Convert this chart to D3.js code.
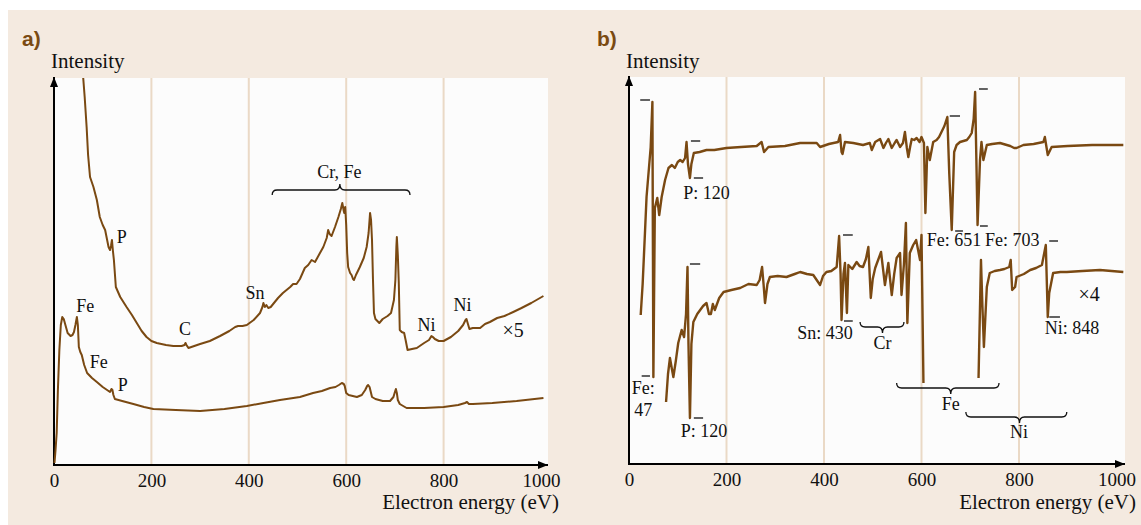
<!DOCTYPE html>
<html><head><meta charset="utf-8">
<script src="https://cdn.jsdelivr.net/npm/d3@7"></script>
<style>body{margin:0;background:#fff}svg{display:block}</style>
</head><body>
<svg id="c" width="1141" height="525"></svg>
<script>
// ---------- data ----------
const energyTicks = [0, 200, 400, 600, 800, 1000];
const gridEnergies = [200, 400, 600, 800];
const xLabel = "Electron energy (eV)";
const yLabel = "Intensity";

// panel a : N(E) spectra  [energy eV, intensity a.u.]
const specA_x5 = [[60,387],[63,368],[67,338],[70,310],[74,288],[81,278],[88,265],[94,248],[100,240],[105,235],[112,218],[115,215],[117,219],[119,225],[121,214],[123,205],[127,178],[136,168],[149,158],[160,150],[170,142],[180,134],[190,128],[200,124],[211,122],[230,120],[245,119],[262,119],[268,120],[270,122],[272,120],[276,117],[282,118],[300,121],[320,124],[341,129],[360,134],[372,138],[378,139],[387,139],[396,140],[410,145],[423,152],[428,158],[430,162],[433,158],[436,160],[440,157],[445,158],[460,167],[470,172],[485,178],[491,181],[498,181],[505,186],[515,197],[522,200],[529,205],[536,203],[545,211],[553,218],[560,227],[563,235],[566,231],[570,229],[577,238],[584,248],[589,256],[592,262],[595,254],[596,252],[598,258],[600,240],[602,212],[604,198],[608,192],[611,190],[614,186],[616,185],[620,190],[628,198],[636,207],[642,218],[646,232],[649,252],[651,245],[653,225],[655,185],[657,152],[660,146],[668,142],[675,146],[685,149],[692,152],[698,165],[701,185],[703,218],[704,228],[706,210],[708,182],[710,135],[714,133],[719,132],[722,125],[726,115],[735,116],[745,117],[760,122],[770,125],[775,129],[778,128],[782,126],[790,124],[800,124],[815,128],[830,134],[840,140],[845,145],[847,146],[850,141],[853,136],[860,137],[875,137],[885,141],[895,143],[910,147],[925,149],[943,153],[960,157],[980,162],[1005,169]];
const specA_x1 = [[1,2],[3,14],[5.5,32],[8,75],[11,115],[14,140],[17,148],[20,146],[24,139],[28,132],[34,129],[38,130],[41,133],[44,140],[47,148],[49,140],[51,118],[54,113],[57,110],[62,100],[68,92],[78,87],[88,83],[100,78],[115,73],[118,76],[120,75],[122,70],[125,66],[140,64],[163,61],[185,58],[204,56],[250,55],[300,54],[350,56],[396,59],[430,62],[464,65],[505,68],[532,72],[550,74],[567,77],[578,78],[585,80],[591,82],[595,81],[597,79],[600,72],[605,70],[622,68],[632,70],[639,75],[643,79],[645,80],[648,78],[650,74],[653,68],[660,66],[675,64],[690,64],[697,68],[700,73],[702,76],[704,72],[706,65],[710,61],[724,57],[760,57],[800,58],[830,60],[844,62],[848,63],[852,61],[860,61],[900,62],[950,64],[1005,67]];

// panel b : derivative spectra
const specB_top = [[24,149],[28,180],[33,234],[36,267],[44.5,317],[48,362],[50,87],[53,256],[58,266],[62,249],[67,267],[74,284],[81,296],[88,299],[94,296],[100,302],[105,304],[110,302],[115,306],[118,322],[121,300],[125,286],[128,300],[133,311],[145,312],[159,314],[175,314],[200,316],[230,317],[262,318],[272,322],[277,312],[286,317],[320,318],[351,321],[385,321],[392,317],[410,320],[429,322],[433,329],[436,312],[438,310],[443,322],[460,321],[480,319],[494,321],[498,314],[505,322],[515,325],[522,316],[527,321],[532,325],[539,316],[545,321],[549,324],[556,317],[562,321],[566,332],[570,316],[573,307],[577,318],[580,325],[585,324],[590,326],[596,322],[600,327],[605,321],[608,251],[612,317],[617,304],[624,322],[631,324],[636,327],[641,332],[647,338],[653,347],[657,290],[662,234],[667,312],[672,319],[679,322],[686,323],[693,324],[698,327],[703,331],[707,345],[710,372],[715,239],[720,304],[723,322],[727,304],[734,319],[745,320],[761,321],[782,318],[790,316],[795,316],[809,319],[830,320],[850,322],[853,327],[859,309],[867,317],[900,318],[950,319],[1014,319]];
const specB_x4 = [[76,62],[80,90],[84,106],[88,95],[91,87],[96,103],[101,121],[108,134],[113,127],[117,150],[120,197],[122,120],[125,46],[128,120],[132,142],[140,150],[146,154],[152,158],[159,161],[164,150],[168,150],[172,160],[176,154],[185,166],[194,172],[210,174],[228,176],[245,180],[262,179],[268,184],[273,197],[276,180],[279,161],[284,180],[289,187],[305,188],[323,187],[340,190],[351,192],[365,190],[378,189],[385,184],[392,179],[398,188],[405,192],[415,193],[426,197],[431,228],[434,190],[436,144],[440,190],[443,201],[447,151],[450,199],[458,195],[467,202],[473,198],[480,197],[486,205],[491,217],[496,166],[500,185],[505,196],[511,204],[517,212],[525,179],[532,201],[539,169],[544,190],[549,206],[556,211],[559,169],[564,200],[568,241],[571,141],[576,211],[583,219],[589,224],[593,214],[597,204],[600,229],[604,81],null,[717,86],[722,204],[725,157],[728,117],[734,177],[740,191],[750,193],[761,194],[770,195],[780,197],[783,204],[786,174],[792,177],[795,187],[810,190],[823,194],[835,196],[847,199],[855,219],[859,147],[862,171],[870,191],[885,192],[898,192],[930,193],[966,194],[990,193],[1014,192]];

// annotations [text, energy, intensity, anchor, size]
const labelsA = [["P",139,228,"middle",18],["Fe",64,159,"middle",18],["Fe",92,103,"middle",18],["P",141,80,"middle",18],["C",269,136,"middle",18],["Sn",413,172,"middle",18],["Cr, Fe",586,293,"middle",18],["Ni",765,140,"middle",18],["Ni",839,160,"middle",18],["\u00d75",943,135,"middle",20]];
const bracesA = [[448,731,587,275,-1]];   // [from, to, tip, intensity, direction]
const labelsB = [["P: 120",159,271,"middle",18],["Fe: 651",611,224,"start",18],["Fe: 703",730,224,"start",18],["Fe:",29,76,"middle",18],["47",29,54,"middle",18],["P: 120",154,33,"middle",18],["Sn: 430",402,131,"middle",18],["Cr",520,121,"middle",18],["Fe",660,60,"middle",18],["Ni",800,32,"middle",18],["Ni: 848",853,136,"start",18],["\u00d74",944,170,"middle",20]];
const bracesB = [[474,564,520,137,1],[549,759,660,76,1],[691,898,801,47,1]];
const markersB = [[23,43,364],[26,43,88],[127,146,323],[133,152,286],[658,679,348],[669,685,233],[718,736,375],[720,736,238],[125,146,200],[133,152,46],[439,459,229],[441,459,143],[862,880,223],[862,884,147]];

// ---------- drawing ----------
const svg = d3.select("#c");
const brown = "#7a4912";
const serif = "'Liberation Serif','Times New Roman',serif";

svg.append("rect").attr("x",8).attr("y",10).attr("width",1133).attr("height",515).attr("fill","#f4eae0");

const defs = svg.append("defs");
defs.append("marker").attr("id","arr").attr("viewBox","0 0 10 8").attr("refX",10).attr("refY",4)
  .attr("markerWidth",10).attr("markerHeight",8).attr("markerUnits","userSpaceOnUse").attr("orient","auto")
  .append("path").attr("d","M0,0L10,4L0,8Z").attr("fill","#000");

function panel(cfg) {
  const x = d3.scaleLinear().domain([0,1000]).range([cfg.left, cfg.x1000]);
  const y = d3.scaleLinear().domain([0,387]).range([cfg.bottom, cfg.top]);
  const g = svg.append("g");
  g.append("rect").attr("x",cfg.left).attr("y",cfg.top).attr("width",cfg.right-cfg.left).attr("height",cfg.bottom-cfg.top).attr("fill","#fcfcfc");
  g.selectAll(".grid").data(gridEnergies).join("line")
    .attr("x1",d=>x(d)).attr("x2",d=>x(d)).attr("y1",cfg.top).attr("y2",cfg.bottom)
    .attr("stroke","#ead9c6").attr("stroke-width",2);
  const ax = g.append("g").attr("transform",`translate(0,${cfg.bottom})`)
    .call(d3.axisBottom(x).tickValues(energyTicks).tickSize(0).tickPadding(9).tickFormat(d3.format("d")));
  ax.select(".domain").remove();
  ax.selectAll("text").attr("font-family",serif).attr("font-size",19).attr("fill","#111");
  g.append("line").attr("x1",cfg.left).attr("x2",cfg.left).attr("y1",cfg.bottom+1).attr("y2",cfg.top-1)
    .attr("stroke","#000").attr("stroke-width",2).attr("marker-end","url(#arr)");
  g.append("line").attr("x1",cfg.left-1).attr("x2",cfg.right).attr("y1",cfg.bottom).attr("y2",cfg.bottom)
    .attr("stroke","#000").attr("stroke-width",2).attr("marker-end","url(#arr)");
  g.append("text").attr("x",cfg.right+11).attr("y",509).attr("text-anchor","end")
    .attr("font-family",serif).attr("font-size",21).attr("fill","#111").text(xLabel);
  g.append("text").attr("x",cfg.left-3).attr("y",68)
    .attr("font-family",serif).attr("font-size",21).attr("fill","#111").text(yLabel);
  g.append("text").attr("x",cfg.left-32).attr("y",46)
    .attr("font-family","'Liberation Sans',Arial,sans-serif").attr("font-weight","bold").attr("font-size",21)
    .attr("fill","#7a4a12").text(cfg.tag);
  const line = d3.line().defined(d=>d!==null).x(d=>x(d[0])).y(d=>y(d[1])).curve(d3.curveLinear);
  cfg.series.forEach(s=>{
    g.append("path").attr("d",line(s)).attr("fill","none").attr("stroke",brown)
      .attr("stroke-width",cfg.sw).attr("stroke-linejoin","round");
  });
  g.selectAll(".lab").data(cfg.labels).join("text")
    .attr("x",d=>x(d[1])).attr("y",d=>y(d[2])).attr("dy","0.35em").attr("text-anchor",d=>d[3])
    .attr("font-family",serif).attr("font-size",d=>d[4]).attr("fill","#111").text(d=>d[0]);
  cfg.braces.forEach(b=>{
    const x1=x(b[0]), x2=x(b[1]), xm=x(b[2]), yy=y(b[3]), d=-b[4];
    const p = `M${x1},${yy+d*5}Q${x1},${yy} ${x1+5},${yy}L${xm-5},${yy}Q${xm},${yy} ${xm},${yy-d*6}Q${xm},${yy} ${xm+5},${yy}L${x2-5},${yy}Q${x2},${yy} ${x2},${yy+d*5}`;
    g.append("path").attr("d",p).attr("fill","none").attr("stroke","#111").attr("stroke-width",1.3);
  });
  g.selectAll(".mk").data(cfg.markers).join("line")
    .attr("x1",d=>x(d[0])).attr("x2",d=>x(d[1])).attr("y1",d=>y(d[2])).attr("y2",d=>y(d[2]))
    .attr("stroke","#222").attr("stroke-width",1.4);
}

panel({tag:"a)", left:54, x1000:541, right:548, top:78, bottom:465, sw:2,
  series:[specA_x5, specA_x1], labels:labelsA, braces:bracesA, markers:[]});
panel({tag:"b)", left:629, x1000:1116.5, right:1125, top:77, bottom:464, sw:2.4,
  series:[specB_top, specB_x4], labels:labelsB, braces:bracesB, markers:markersB});
</script>
</body></html>
